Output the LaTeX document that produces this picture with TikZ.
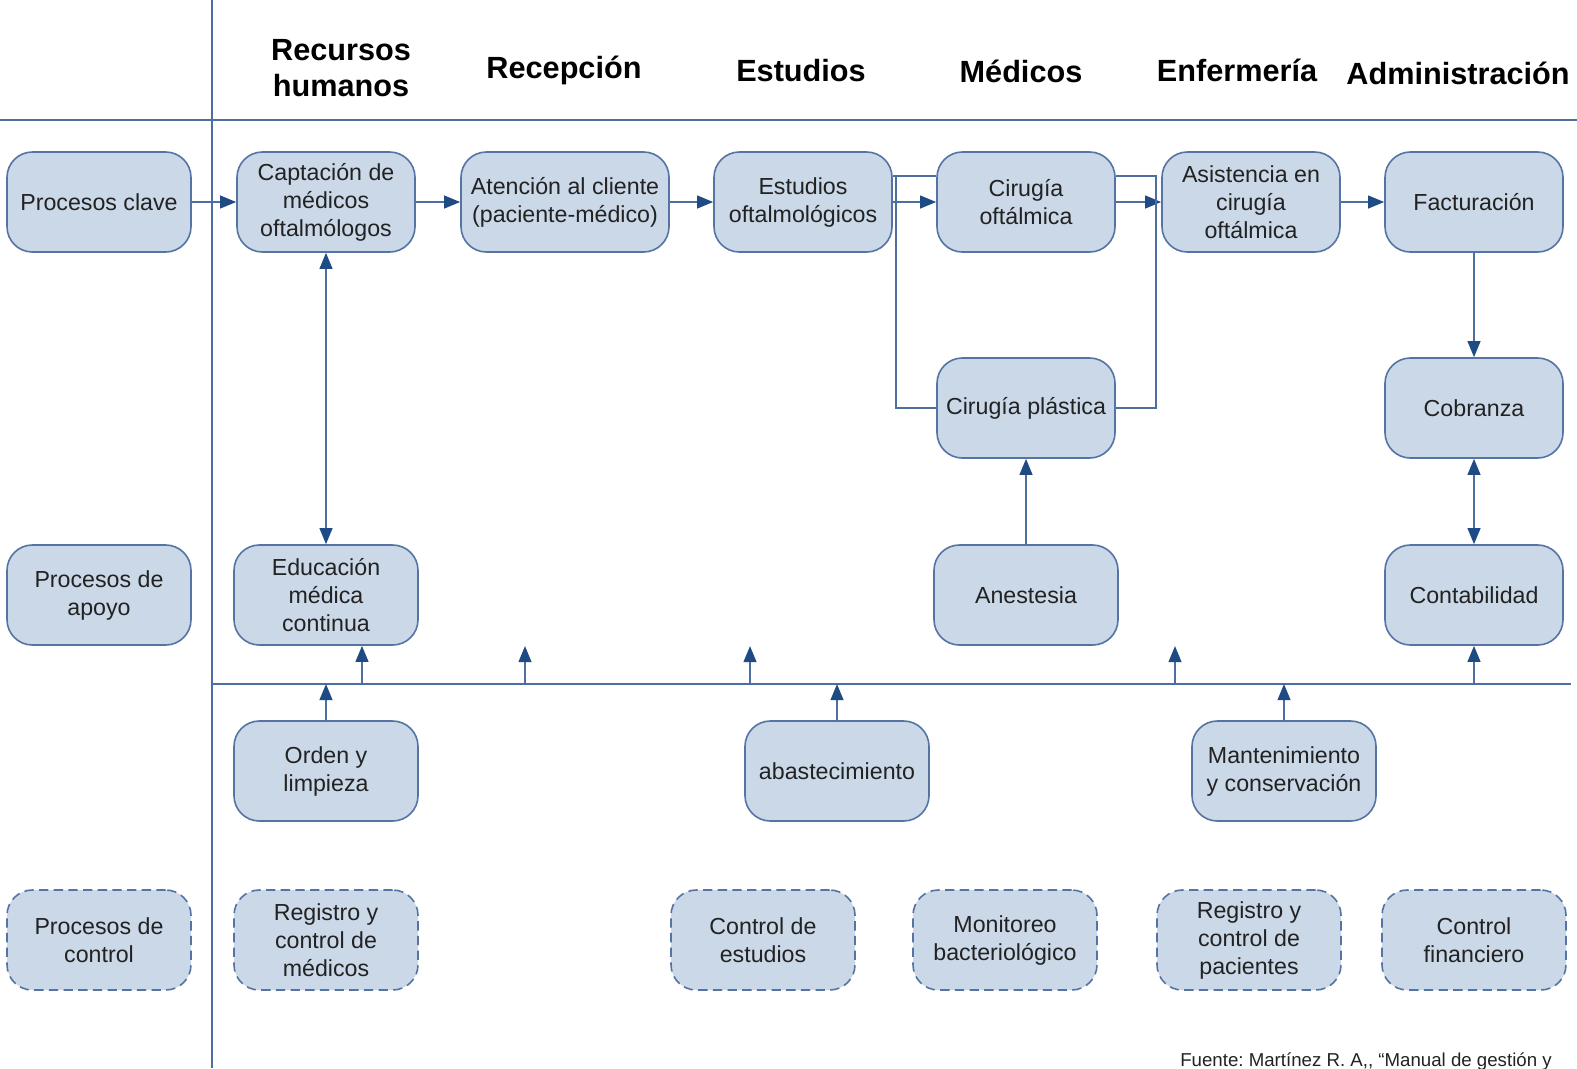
\documentclass[tikz,border=0pt]{standalone}
\usepackage{fontspec}
\setmainfont{Liberation Sans}
\usetikzlibrary{arrows.meta,calc}
\definecolor{boxfill}{HTML}{CAD8E8}
\definecolor{boxline}{HTML}{5574A4}
\definecolor{wirecol}{HTML}{4C6EA0}
\definecolor{tipcol}{HTML}{1F4B85}
\definecolor{txt}{HTML}{222222}
\frenchspacing
\begin{document}
\begin{tikzpicture}[x=0.75pt,y=-0.75pt,
  proc/.style={draw=boxline, line width=1.2pt, fill=boxfill, rounded corners=19pt,
    minimum width=133.5pt, minimum height=75pt, align=center, inner sep=2pt,
    font=\fontsize{17.4}{21}\selectfont, text=txt},
  wide/.style={minimum width=138pt},
  ctrl/.style={proc, wide, dash pattern=on 7pt off 4pt},
  hdr/.style={font=\fontsize{23}{27}\selectfont\bfseries, text=black, align=center},
  wire/.style={draw=wirecol, line width=1.5pt},
  tip/.tip={Triangle[length=12pt,width=9.5pt,color=tipcol]},
  flow/.style={wire, -tip},
  both/.style={wire, tip-tip}]
\useasboundingbox (0,0) rectangle (1577,1068);

% frame lines
\coordinate (hl) at (0,120);
\coordinate (hr) at (1577,120);
\coordinate (vt) at (212,0);
\coordinate (vb) at (212,1068);
\draw[wire] (hl) -- (hr);
\draw[wire] (vt) -- (vb);

% column headers
\node[hdr] (h1) at (341,68) {Recursos\\humanos};
\node[hdr] (h2) at (564,70) {Recepción};
\node[hdr] (h3) at (801,71) {Estudios};
\node[hdr] (h4) at (1021,71) {Médicos};
\node[hdr] (h5) at (1237,70) {Enfermería};
\node[hdr] (h6) at (1458,73) {Administración};

% key processes
\node[proc, wide] (pclave) at (99,202) {Procesos clave};
\node[proc] (capt) at (326,202) {Captación de\\médicos\\oftalmólogos};
\node[proc, minimum width=156pt] (aten) at (565,202) {Atención al cliente\\(paciente-médico)};
\node[proc] (estu) at (803,202) {Estudios\\oftalmológicos};
\node[proc] (ciro) at (1026,202) {Cirugía\\oftálmica};
\node[proc] (asis) at (1251,202) {Asistencia en\\cirugía\\oftálmica};
\node[proc] (fact) at (1474,202) {Facturación};
\node[proc] (cirp) at (1026,408) {Cirugía plástica};
\node[proc] (cobr) at (1474,408) {Cobranza};

% support processes
\node[proc, wide] (papoyo) at (99,595) {Procesos de\\apoyo};
\node[proc, wide] (educ) at (326,595) {Educación\\médica\\continua};
\node[proc, wide] (anes) at (1026,595) {Anestesia};
\node[proc] (cont) at (1474,595) {Contabilidad};
\node[proc, wide] (orden) at (326,771) {Orden y\\limpieza};
\node[proc, wide] (abas) at (837,771) {abastecimiento};
\node[proc, wide] (mant) at (1284,771) {Mantenimiento\\y conservación};

% control processes
\node[ctrl] (pcontrol) at (99,940) {Procesos de\\control};
\node[ctrl] (regmed) at (326,940) {Registro y\\control de\\médicos};
\node[ctrl] (cest) at (763,940) {Control de\\estudios};
\node[ctrl] (moni) at (1005,940) {Monitoreo\\bacteriológico};
\node[ctrl] (regpac) at (1249,940) {Registro y\\control de\\pacientes};
\node[ctrl] (cfin) at (1474,940) {Control\\financiero};

% main flow
\draw[flow] (pclave.east) -- (capt.west);
\draw[flow] (capt.east) -- (aten.west);
\draw[flow] (aten.east) -- (estu.west);
\draw[flow] (estu.east) -- (ciro.west);
\draw[flow] (ciro.east) -- (asis.west);
\draw[flow] (asis.east) -- (fact.west);

% branch through plastic surgery
\coordinate (jl) at (896,176);
\coordinate (jr) at (1156,176);
\draw[wire] (estu.east |- jl) -- (ciro.west |- jl);
\draw[wire] (jl) |- (cirp.west);
\draw[wire] (ciro.east |- jr) -- (jr) |- (cirp.east);

% vertical links
\draw[both] (capt.south) -- (educ.north);
\draw[flow] (anes.north) -- (cirp.south);
\draw[flow] (fact.south) -- (cobr.north);
\draw[both] (cobr.south) -- (cont.north);

% support bus
\coordinate (busL) at (212,684);
\coordinate (busR) at (1571,684);
\draw[wire] (busL) -- (busR);
\coordinate (b1) at (362,684);
\coordinate (b2) at (525,684);
\coordinate (b3) at (750,684);
\coordinate (b4) at (1175,684);
\coordinate (b5) at (1474,684);
\coordinate (t2) at (525,646);
\coordinate (t3) at (750,646);
\coordinate (t4) at (1175,646);
\draw[flow] (b1) -- (b1 |- educ.south);
\draw[flow] (b2) -- (t2);
\draw[flow] (b3) -- (t3);
\draw[flow] (b4) -- (t4);
\draw[flow] (b5) -- (cont.south);
\draw[flow] (orden.north) -- (orden.north |- busL);
\draw[flow] (abas.north) -- (abas.north |- busL);
\draw[flow] (mant.north) -- (mant.north |- busL);

% source note
\node[anchor=base west, inner sep=0pt, font=\fontsize{14}{16}\selectfont, text=txt] (fuente)
  at (1180,1066) {Fuente: Martínez R. A{,}{,} “Manual de gestión y};
\end{tikzpicture}
\end{document}
